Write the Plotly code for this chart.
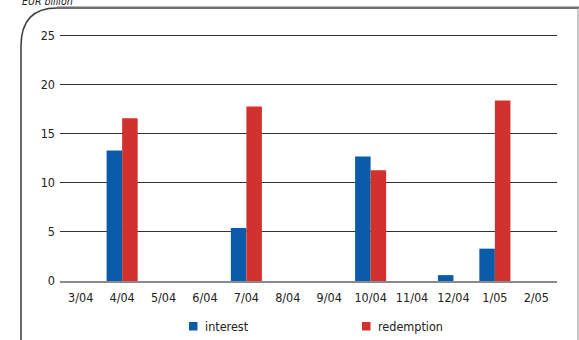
import plotly.graph_objects as go

# Monthly payments, EUR billion
categories = ["3/04", "4/04", "5/04", "6/04", "7/04", "8/04",
              "9/04", "10/04", "11/04", "12/04", "1/05", "2/05"]
interest = [0, 13.3, 0, 0, 5.4, 0, 0, 12.7, 0, 0.6, 3.3, 0]
redemption = [0, 16.6, 0, 0, 17.8, 0, 0, 11.3, 0, 0, 18.4, 0]
series_names = ["interest", "redemption"]
series_colors = ["#0a5cab", "#d2322d"]
y_ticks = [0, 5, 10, 15, 20, 25]

W, H = 579, 340
L, R, T, B = 60, 22, 31, 59
FONT = "DejaVu Sans Condensed, Liberation Sans Narrow, Roboto, sans-serif"


def px(x):
    return (x - L) / (W - L - R)


def py(y):
    return (H - B - y) / (H - T - B)


fig = go.Figure()
for name, vals, col in zip(series_names, [interest, redemption], series_colors):
    fig.add_trace(go.Bar(x=categories, y=vals, name=name,
                         marker=dict(color=col, line=dict(width=0)),
                         showlegend=False))

shapes = []
# rounded frame around the chart
frame = (f"M {px(21)},{py(340)} L {px(21)},{py(46)} "
         f"Q {px(21)},{py(8)} {px(57)},{py(8)} L {px(578)},{py(8)}")
shapes.append(dict(type="path", xref="paper", yref="paper", path=frame,
                   line=dict(color="#3a3a3a", width=1.5)))
shapes.append(dict(type="line", xref="paper", yref="paper",
                   x0=px(57), x1=px(579), y0=py(7.5), y1=py(7.5),
                   line=dict(color="#707070", width=2)))
shapes.append(dict(type="line", xref="paper", yref="paper",
                   x0=px(578), x1=px(578), y0=py(8), y1=py(340),
                   line=dict(color="#909090", width=1)))

annotations = [dict(text="<i>EUR billion</i>", xref="paper", yref="paper",
                    x=px(20), y=py(9), xanchor="left", yanchor="bottom",
                    showarrow=False, font=dict(family=FONT, size=10.5, color="#222"))]

# legend drawn as swatches with labels
for name, col, sx in zip(series_names, series_colors, [189, 362]):
    shapes.append(dict(type="rect", xref="paper", yref="paper",
                       x0=px(sx), x1=px(sx + 8.5), y0=py(322), y1=py(330.5),
                       fillcolor=col, line=dict(width=0)))
    annotations.append(dict(text=name, xref="paper", yref="paper",
                            x=px(sx + 14), y=py(326), xanchor="left", yanchor="middle",
                            showarrow=False,
                            font=dict(family=FONT, size=12.5, color="#222")))

fig.update_layout(
    width=W, height=H,
    margin=dict(l=L, r=R, t=T, b=B),
    paper_bgcolor="white", plot_bgcolor="white",
    barmode="group", bargap=0.25, bargroupgap=0,
    font=dict(family=FONT, size=12, color="#222"),
    shapes=shapes, annotations=annotations,
    xaxis=dict(showgrid=False, showline=True, linecolor="#8a8a8a", linewidth=2,
               ticks="", tickfont=dict(size=12.5), ticklabelstandoff=4),
    yaxis=dict(range=[0, 25.5], tickvals=y_ticks, showgrid=True,
               gridcolor="#333333", gridwidth=1, zeroline=False,
               ticks="", tickfont=dict(size=12.5), ticklabelstandoff=4),
)

fig.write_html("out.html")
